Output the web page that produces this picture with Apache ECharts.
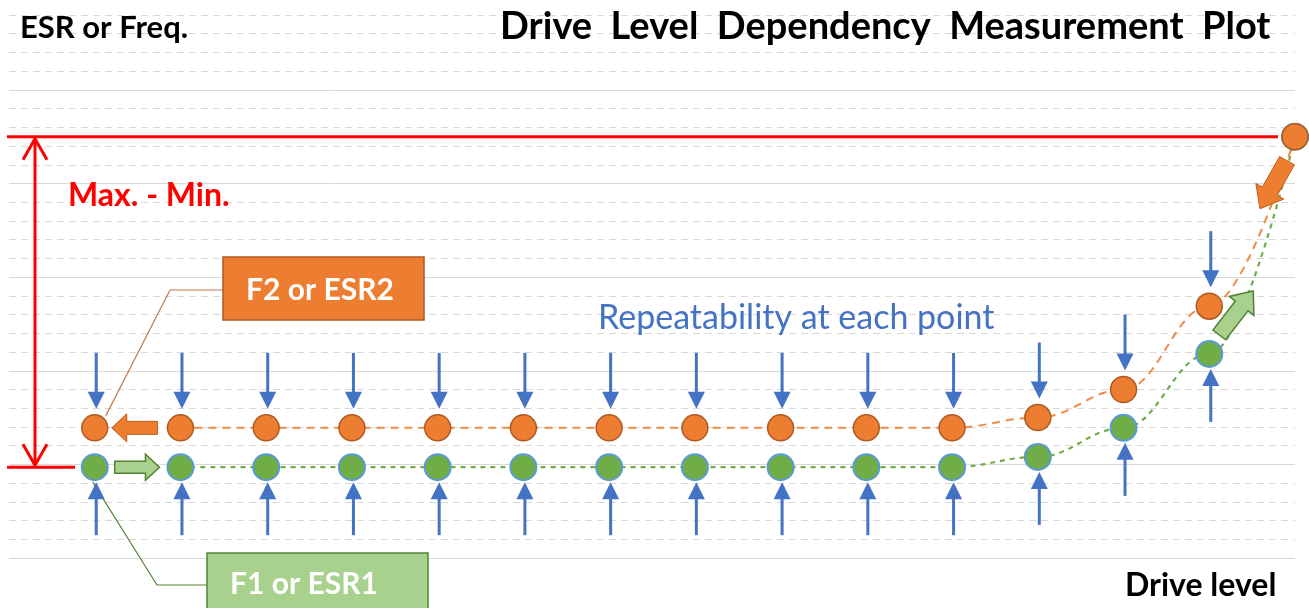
<!DOCTYPE html>
<html><head><meta charset="utf-8">
<script src="https://cdn.jsdelivr.net/npm/echarts@6/dist/echarts.min.js"></script>
<style>html,body{margin:0;padding:0;background:#fff}#c{width:1309px;height:608px}</style>
</head><body><div id="c"></div>
<script>
// ---- data ----
const driveLevels = [1, 2, 3, 4, 5, 6, 7, 8, 9, 10, 11, 12, 13, 14, 15];
const f2Values = [6.95, 6.95, 6.95, 6.95, 6.95, 6.95, 6.95, 6.95, 6.95, 6.95, 6.95, 7.5, 9.0, 13.45, 22.5];
const f1Values = [4.85, 4.85, 4.85, 4.85, 4.85, 4.85, 4.85, 4.85, 4.85, 4.85, 4.85, 5.4, 6.95, 10.9, 22.5];
const yMin = 0, yMax = 29;
const xMin = 0, xMax = 15;

const titleText = 'Drive  Level  Dependency  Measurement  Plot';
const yAxisText = 'ESR or Freq.';
const xAxisText = 'Drive level';
const rangeText = 'Max. - Min.';
const repeatText = 'Repeatability at each point';
const f2Text = 'F2 or ESR2';
const f1Text = 'F1 or ESR1';

const FONT = 'Lato, "Open Sans", sans-serif';
const ORANGE = '#ED7D31', GREEN = '#70AD47', BLUE = '#4472C4', RED = '#FF0000';

const chart = echarts.init(document.getElementById('c'), null, {renderer: 'canvas'});

function blockArrow(x1, y1, x2, y2, sw, hw, hl) {
  const dx = x2 - x1, dy = y2 - y1, L = Math.hypot(dx, dy);
  const ux = dx / L, uy = dy / L, nx = -uy, ny = ux;
  const bx = x2 - ux * hl, by = y2 - uy * hl;
  return [
    [x1 + nx * sw / 2, y1 + ny * sw / 2],
    [bx + nx * sw / 2, by + ny * sw / 2],
    [bx + nx * hw / 2, by + ny * hw / 2],
    [x2, y2],
    [bx - nx * hw / 2, by - ny * hw / 2],
    [bx - nx * sw / 2, by - ny * sw / 2],
    [x1 - nx * sw / 2, y1 - ny * sw / 2]
  ];
}

const pairs = (ys) => driveLevels.map((x, i) => [x, ys[i]]);
const arrowData = driveLevels.slice(0, driveLevels.length - 1).map((x, i) => [x, f2Values[i], f1Values[i]]);
const maxVal = Math.max(...f2Values, ...f1Values);
const minVal = Math.min(...f2Values, ...f1Values);
const last = driveLevels.length - 1;

const option = {
  animation: false,
  backgroundColor: '#fff',
  grid: {left: 9, right: 14, top: 15, bottom: 50},
  xAxis: {type: 'value', min: xMin, max: xMax, show: false},
  yAxis: [
    {type: 'value', min: yMin, max: yMax, interval: 1,
      axisLine: {show: false}, axisTick: {show: false}, axisLabel: {show: false},
      splitLine: {show: true, lineStyle: {color: '#D9D9D9', width: 1, type: [7, 5]}}},
    {type: 'value', min: yMin, max: yMax, interval: 5,
      axisLine: {show: false}, axisTick: {show: false}, axisLabel: {show: false},
      splitLine: {show: true, showMaxLine: false, lineStyle: {color: '#D9D9D9', width: 1, type: 'solid'}}}
  ],
  graphic: [
    {type: 'text', z: 100, style: {text: yAxisText, x: 20, y: 28, font: 'bold 31px ' + FONT, fill: '#000', verticalAlign: 'middle'}},
    {type: 'text', z: 100, style: {text: titleText, x: 500, y: 27, font: 'bold 38px ' + FONT, fill: '#000', verticalAlign: 'middle'}},
    {type: 'text', z: 100, style: {text: rangeText, x: 68, y: 196, font: 'bold 32px ' + FONT, fill: RED, verticalAlign: 'middle'}},
    {type: 'text', z: 100, style: {text: repeatText, x: 598, y: 318, font: '34px ' + FONT, fill: BLUE, verticalAlign: 'middle'}},
    {type: 'text', z: 100, style: {text: xAxisText, x: 1125, y: 586, font: 'bold 32px ' + FONT, fill: '#000', verticalAlign: 'middle'}},
    {type: 'rect', z: 100, shape: {x: 223, y: 257, width: 201, height: 63}, style: {fill: ORANGE, stroke: '#AE5A21', lineWidth: 1.5}},
    {type: 'text', z: 101, style: {text: f2Text, x: 320, y: 290, font: 'bold 30px ' + FONT, fill: '#fff', align: 'center', verticalAlign: 'middle'}},
    {type: 'rect', z: 100, shape: {x: 207, y: 553, width: 221, height: 62}, style: {fill: '#A9D18E', stroke: '#548235', lineWidth: 1.5}},
    {type: 'text', z: 101, style: {text: f1Text, x: 304, y: 584, font: 'bold 30px ' + FONT, fill: '#fff', align: 'center', verticalAlign: 'middle'}}
  ],
  series: [
    {type: 'line', name: 'F1 line', data: pairs(f1Values).slice(1), smooth: 0.4, smoothMonotone: 'x',
      showSymbol: false, z: 2, lineStyle: {color: GREEN, width: 2.2, type: [5, 5]}},
    {type: 'line', name: 'F2 line', data: pairs(f2Values).slice(1), smooth: 0.4, smoothMonotone: 'x',
      showSymbol: false, z: 2, lineStyle: {color: '#F08A45', width: 2, type: [8, 6]}},
    {type: 'custom', name: 'annotations', z: 3, data: [[0, 0]], clip: false,
      renderItem: function (params, api) {
        const top = api.coord([xMin, maxVal])[1];
        const bot = api.coord([xMin, minVal])[1];
        const p0o = api.coord([driveLevels[0], f2Values[0]]);
        const p1o = api.coord([driveLevels[1], f2Values[1]]);
        const p0g = api.coord([driveLevels[0], f1Values[0]]);
        const p1g = api.coord([driveLevels[1], f1Values[1]]);
        const pLast = api.coord([driveLevels[last], f2Values[last]]);
        const pg13 = api.coord([driveLevels[last - 1], f1Values[last - 1]]);
        const vx = 35;
        const red = {stroke: RED, lineWidth: 3, fill: null};
        return {type: 'group', children: [
          {type: 'line', shape: {x1: 7, y1: top, x2: pLast[0] - 17, y2: top}, style: red},
          {type: 'line', shape: {x1: 7, y1: bot, x2: 75, y2: bot}, style: red},
          {type: 'line', shape: {x1: vx, y1: top + 2, x2: vx, y2: bot - 2}, style: red},
          {type: 'polyline', shape: {points: [[vx - 12, top + 23], [vx, top + 2], [vx + 12, top + 23]]}, style: red},
          {type: 'polyline', shape: {points: [[vx - 12, bot - 23], [vx, bot - 2], [vx + 12, bot - 23]]}, style: red},
          // leader lines
          {type: 'polyline', shape: {points: [[223, 290], [170, 290], [p0o[0] + 11, p0o[1] - 12]]}, style: {stroke: '#C07A4A', lineWidth: 1.2, fill: null}},
          {type: 'polyline', shape: {points: [[207, 585], [157, 585], [p0g[0] - 2, p0g[1] + 15]]}, style: {stroke: '#548235', lineWidth: 1.2, fill: null}},
          // block arrows
          {type: 'polygon', shape: {points: blockArrow(p1o[0] - 23, p1o[1], p0o[0] + 17, p0o[1], 13, 28, 15)}, style: {fill: ORANGE, stroke: '#C55A11', lineWidth: 1}},
          {type: 'polygon', shape: {points: blockArrow(p0g[0] + 20, p0g[1], p1g[0] - 21, p1g[1], 12, 26, 14)}, style: {fill: '#A9D18E', stroke: '#548235', lineWidth: 1.5}},
          {type: 'polygon', shape: {points: blockArrow(pLast[0] - 8, pLast[1] + 24, pLast[0] - 35, pLast[1] + 72, 17, 32, 20)}, style: {fill: ORANGE, stroke: '#C55A11', lineWidth: 1}},
          {type: 'polygon', shape: {points: blockArrow(pg13[0] + 10, pg13[1] - 19, pg13[0] + 44, pg13[1] - 63, 16, 31, 19)}, style: {fill: '#A9D18E', stroke: '#548235', lineWidth: 1.5}}
        ]};
      }},
    {type: 'scatter', name: 'F1', data: pairs(f1Values), symbol: 'circle', symbolSize: 26, z: 5,
      itemStyle: {color: GREEN, borderColor: '#5B9BD5', borderWidth: 2, opacity: 1}},
    {type: 'scatter', name: 'F2', data: pairs(f2Values), symbol: 'circle', symbolSize: 26, z: 6,
      itemStyle: {color: ORANGE, borderColor: '#AE5A21', borderWidth: 1.5, opacity: 1}},
    {type: 'custom', name: 'repeatability', z: 4, data: arrowData, clip: false,
      renderItem: function (params, api) {
        const o = api.coord([api.value(0), api.value(1)]);
        const g = api.coord([api.value(0), api.value(2)]);
        const x = o[0] + 1.5, hw = 8.5, hl = 17;
        const st = {stroke: BLUE, lineWidth: 3};
        return {type: 'group', children: [
          {type: 'line', shape: {x1: x, y1: o[1] - 75, x2: x, y2: o[1] - 19 - hl + 1}, style: st},
          {type: 'polygon', shape: {points: [[x - hw, o[1] - 19 - hl], [x + hw, o[1] - 19 - hl], [x, o[1] - 19]]}, style: {fill: BLUE}},
          {type: 'line', shape: {x1: x, y1: g[1] + 68, x2: x, y2: g[1] + 15 + hl - 1}, style: st},
          {type: 'polygon', shape: {points: [[x - hw, g[1] + 15 + hl], [x + hw, g[1] + 15 + hl], [x, g[1] + 15]]}, style: {fill: BLUE}}
        ]};
      }}
  ]
};
chart.setOption(option);
</script></body></html>
